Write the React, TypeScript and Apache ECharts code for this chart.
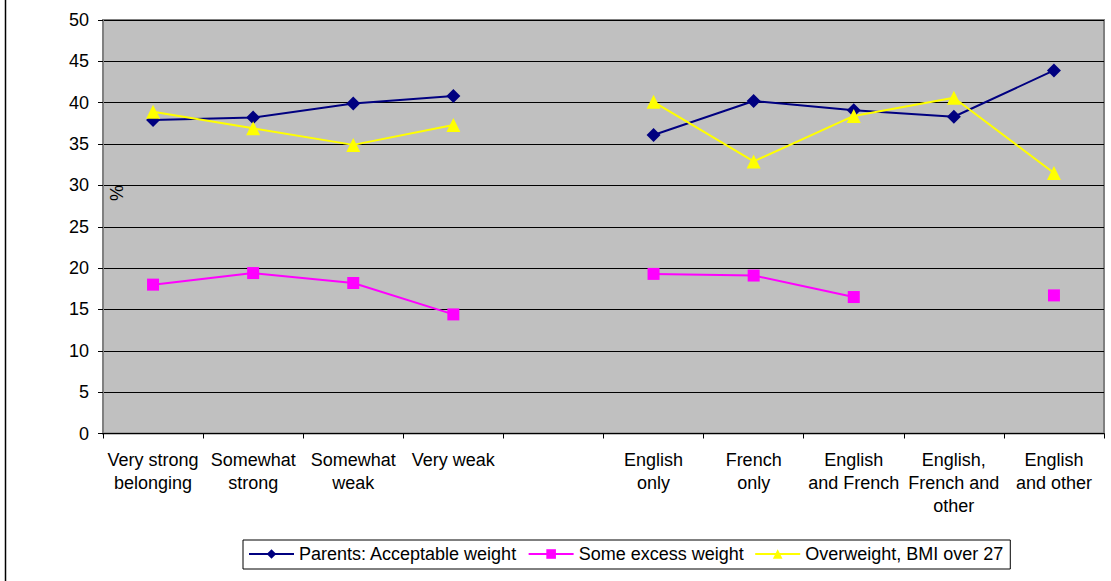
import React, { useEffect, useRef } from "react";
import * as echarts from "echarts";

const categories = [
  "Very strong\nbelonging",
  "Somewhat\nstrong",
  "Somewhat\nweak",
  "Very weak",
  "",
  "English\nonly",
  "French\nonly",
  "English\nand French",
  "English,\nFrench and\nother",
  "English\nand other",
];

const acceptableWeight = [37.9, 38.2, 39.9, 40.8, null, 36.1, 40.2, 39.1, 38.3, 43.9];
const someExcessWeight = [18.0, 19.4, 18.2, 14.4, null, 19.3, 19.1, 16.5, null, 16.7];
const overweightBmi27 = [38.9, 36.9, 34.9, 37.3, null, 40.1, 32.9, 38.4, 40.6, 31.5];

const yTicks = { min: 0, max: 50, interval: 5 };

const FONT = "'Liberation Sans', Arial, sans-serif";

export default function App() {
  const ref = useRef<HTMLDivElement>(null);

  useEffect(() => {
    if (!ref.current) return;
    const chart = echarts.init(ref.current, null, { renderer: "svg" });
    const lineSeries = (name: string, data: (number | null)[], color: string, symbol: string, size: number) => ({
      name,
      type: "line",
      data,
      symbol,
      symbolSize: size,
      connectNulls: false,
      showAllSymbol: true,
      itemStyle: { color },
      lineStyle: { color, width: 2 },
      emphasis: { disabled: true },
    });
    chart.setOption({
      animation: false,
      backgroundColor: "#ffffff",
      textStyle: { fontFamily: FONT },
      grid: {
        left: 103,
        right: 7,
        top: 20,
        bottom: 147.5,
        show: true,
        backgroundColor: "#C0C0C0",
        borderColor: "#808080",
        borderWidth: 2,
      },
      legend: {
        left: 243,
        top: 540,
        padding: [5, 7, 6, 5],
        itemGap: 10.5,
        itemWidth: 45,
        itemHeight: 12,
        backgroundColor: "#ffffff",
        borderColor: "#000000",
        borderWidth: 1,
        borderRadius: 0,
        textStyle: { fontSize: 18, color: "#000", fontFamily: FONT },
        data: ["Parents: Acceptable weight", "Some excess weight", "Overweight, BMI over 27"],
      },
      xAxis: {
        type: "category",
        data: categories,
        boundaryGap: true,
        axisLine: { show: true, lineStyle: { color: "#000", width: 1 } },
        axisTick: { show: true, length: 5, inside: false, lineStyle: { color: "#000" } },
        axisLabel: {
          interval: 0,
          margin: 15,
          fontSize: 18,
          lineHeight: 23,
          color: "#000",
          fontFamily: FONT,
          align: "center",
        },
        splitLine: { show: false },
      },
      yAxis: {
        type: "value",
        min: yTicks.min,
        max: yTicks.max,
        interval: yTicks.interval,
        axisLine: { show: true, lineStyle: { color: "#808080", width: 2 } },
        axisTick: { show: true, length: 5, lineStyle: { color: "#000" } },
        axisLabel: { fontSize: 18, color: "#000", margin: 14, fontFamily: FONT },
        splitLine: { show: true, lineStyle: { color: "#000", width: 1 } },
      },
      graphic: [
        {
          type: "line",
          shape: { x1: 5.5, y1: 0, x2: 5.5, y2: 581 },
          style: { stroke: "#000", lineWidth: 1.5 },
          silent: true,
        },
        {
          type: "text",
          x: 116,
          y: 193,
          rotation: -Math.PI / 2,
          style: {
            text: "%",
            font: `18px ${FONT}`,
            fill: "#000",
            textAlign: "center",
            textVerticalAlign: "middle",
          },
          silent: true,
          z: 100,
        },
      ],
      series: [
        lineSeries("Parents: Acceptable weight", acceptableWeight, "#000080", "diamond", 14),
        lineSeries("Some excess weight", someExcessWeight, "#FF00FF", "rect", 12),
        lineSeries("Overweight, BMI over 27", overweightBmi27, "#FFFF00", "triangle", 14),
      ],
    });
    return () => chart.dispose();
  }, []);

  return <div ref={ref} style={{ width: 1111, height: 581, position: "absolute", left: 0, top: 0 }} />;
}
